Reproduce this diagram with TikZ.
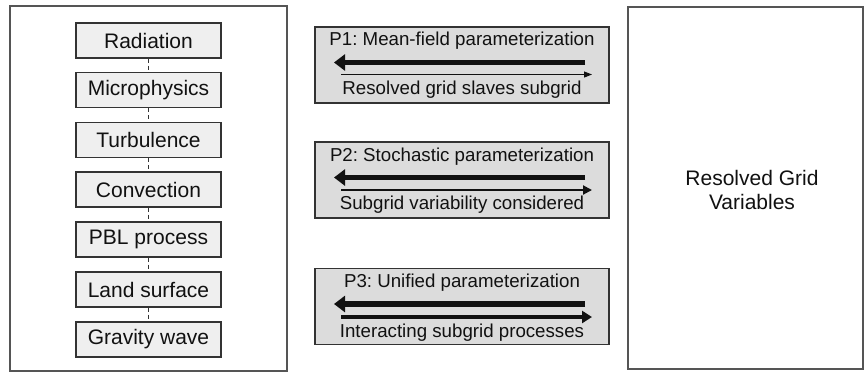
\documentclass[tikz,border=0pt]{standalone}
\usepackage{fontspec}
\setmainfont{Liberation Sans}
\usetikzlibrary{arrows.meta}
\definecolor{edge}{HTML}{333333}
\definecolor{outer}{HTML}{555555}
\definecolor{lfill}{HTML}{EFEFEF}
\definecolor{mfill}{HTML}{DCDCDC}
\definecolor{ink}{HTML}{111111}
\frenchspacing
\tikzset{
  frame/.style={draw=outer, line width=1.2pt, fill=white},
  procbox/.style={draw=edge, line width=1.3pt, fill=lfill, minimum width=145pt, minimum height=35pt, inner sep=0pt, font=\fontsize{21}{22}\selectfont, text=ink},
  parbox/.style={draw=edge, line width=1.3pt, fill=mfill, minimum width=294pt, minimum height=76pt, inner sep=0pt},
  ptext/.style={font=\fontsize{18.7}{20}\selectfont, text=ink, inner sep=0pt},
  link/.style={draw=edge, line width=1pt, dash pattern=on 4pt off 3pt},
  bigarrow/.style={draw=ink, line width=5.5pt, -{Triangle[length=11pt,width=16pt]}},
  thinarrow/.style={draw=ink, line width=1pt, -{Triangle[length=8pt,width=6pt]}},
  midarrow/.style={draw=ink, line width=2pt, -{Triangle[length=9pt,width=9pt]}},
  thickarrow/.style={draw=ink, line width=4pt, -{Triangle[length=10pt,width=12pt]}},
}
\begin{document}
\begin{tikzpicture}[x=1pt,y=-1pt]
\useasboundingbox (0,0) rectangle (864,373);
% outer frames
\node[frame, minimum width=277pt, minimum height=365pt, inner sep=0pt] (left) at (148.5,188.5) {};
\node[frame, minimum width=235pt, minimum height=362pt, inner sep=0pt] (right) at (745.5,188) {};
\node[font=\fontsize{21}{24}\selectfont, text=ink, align=center] (rgv) at (752,190) {Resolved Grid\\Variables};
% process boxes
\node[procbox] (rad) at (148.5,40.5) {Radiation};
\node[procbox] (mic) at (148.5,90) {Microphysics};
\node[procbox] (tur) at (148.5,140) {Turbulence};
\node[procbox] (con) at (148.5,189.5) {Convection};
\node[procbox] (pbl) at (148.5,239.5) {PBL process};
\node[procbox] (lan) at (148.5,289.5) {Land surface};
\node[procbox] (gra) at (148.5,339.5) {Gravity wave};
\draw[link] (rad.south) -- (mic.north);
\draw[link] (mic.south) -- (tur.north);
\draw[link] (tur.south) -- (con.north);
\draw[link] (con.south) -- (pbl.north);
\draw[link] (pbl.south) -- (lan.north);
\draw[link] (lan.south) -- (gra.north);
% P1
\node[parbox] (p1) at (462,65) {};
\node[ptext] (p1t) at (462,41) {P1: Mean-field parameterization};
\node[ptext] (p1b) at (462,90) {Resolved grid slaves subgrid};
\coordinate (p1lr) at (585,62.5);
\coordinate (p1ll) at (334,62.5);
\coordinate (p1rl) at (341,74.5);
\coordinate (p1rr) at (592,74.5);
\draw[bigarrow] (p1lr) -- (p1ll);
\draw[thinarrow] (p1rl) -- (p1rr);
% P2
\node[parbox] (p2) at (462,180) {};
\node[ptext] (p2t) at (462,156.5) {P2: Stochastic parameterization};
\node[ptext] (p2b) at (462,205) {Subgrid variability considered};
\coordinate (p2lr) at (585,177.5);
\coordinate (p2ll) at (334,177.5);
\coordinate (p2rl) at (341,190);
\coordinate (p2rr) at (592,190);
\draw[bigarrow] (p2lr) -- (p2ll);
\draw[midarrow] (p2rl) -- (p2rr);
% P3
\node[parbox] (p3) at (462,306.5) {};
\node[ptext] (p3t) at (462,283) {P3: Unified parameterization};
\node[ptext] (p3b) at (462,333) {Interacting subgrid processes};
\coordinate (p3lr) at (585,304) ;
\coordinate (p3ll) at (334,304);
\coordinate (p3rl) at (341,317);
\coordinate (p3rr) at (592,317);
\draw[bigarrow] (p3lr) -- (p3ll);
\draw[thickarrow] (p3rl) -- (p3rr);
\end{tikzpicture}
\end{document}
